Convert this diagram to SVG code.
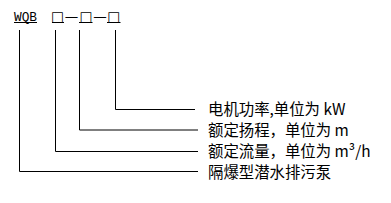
<svg xmlns="http://www.w3.org/2000/svg" width="391" height="203" viewBox="0 0 391 203">
<style>
.bg{fill:#ffffff}
.ln{fill:none;stroke:#000000;stroke-width:1}
.code{font-family:"Liberation Mono","DejaVu Sans Mono",monospace;font-size:12.8px;fill:#000000}
.ph{font-family:"DejaVu Sans","Noto Sans CJK SC",sans-serif;font-size:13.5px;fill:#000000;text-anchor:middle}
.lbl{font-family:"Noto Sans CJK SC","Noto Sans",sans-serif;font-size:15.4px;fill:#000000}
</style>
<rect class="bg" x="0" y="0" width="391" height="203"/>
<g id="code">
  <g id="code-wqb">
    <text class="code" x="14" y="21">WQB</text>
    <line class="ln" x1="14" y1="22.5" x2="37" y2="22.5"/>
  </g>
  <g id="code-fields">
    <text class="ph" x="57.5 71.5 85.8 100 113.7" y="21.3">□—□—□</text>
    <line class="ln" x1="52" y1="22.5" x2="64" y2="22.5"/>
    <line class="ln" x1="79" y1="22.5" x2="92.5" y2="22.5"/>
    <line class="ln" x1="107" y1="22.5" x2="120.5" y2="22.5"/>
  </g>
</g>
<g id="connectors">
  <polyline class="ln" points="115.5,30 115.5,109.5 195,109.5"/>
  <polyline class="ln" points="79.5,30 79.5,130 198,130"/>
  <polyline class="ln" points="55.5,30 55.5,151.5 198,151.5"/>
  <polyline class="ln" points="19.5,30 19.5,171.5 198,171.5"/>
</g>
<g id="label-power"><text class="lbl" x="208" y="114.5">电机功率,单位为 kW</text></g>
<g id="label-head"><text class="lbl" x="208" y="135.5">额定扬程，单位为 m</text></g>
<g id="label-flow"><text class="lbl" x="208" y="157">额定流量，单位为 m³/h</text></g>
<g id="label-type"><text class="lbl" x="208" y="178">隔爆型潜水排污泵</text></g>
</svg>
